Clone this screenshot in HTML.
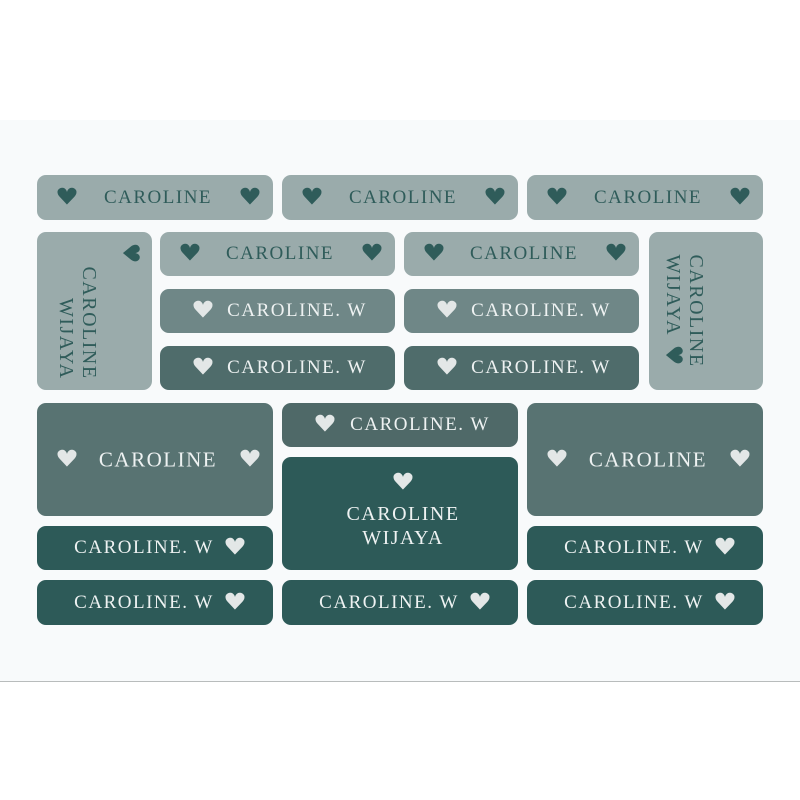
<!DOCTYPE html>
<html><head><meta charset="utf-8"><style>
body{margin:0;width:800px;height:800px;background:#fff;position:relative;overflow:hidden;font-family:"Liberation Serif",serif}
.bg{position:absolute;left:0;top:120px;width:800px;height:561px;background:#f8fafb;border-bottom:1px solid #b8bcbc}
.t{position:absolute;border-radius:9px;letter-spacing:1.5px;white-space:nowrap}
.t span{position:absolute;top:50%;transform:translate(-50%,-50%)}
.a{background:#9aabab;color:#2f5c5a;font-size:19px}
.b{background:#6f8787;color:#eef2f2;font-size:19px}
.c{background:#4f6c6b;color:#eef2f2;font-size:19px}
.d{background:#587372;color:#eef2f2;font-size:21px}
.e{background:#2d5a58;color:#eef2f2;font-size:19px}
.t span.h{font-family:"DejaVu Sans",sans-serif;font-size:23px;letter-spacing:0;transform:translate(-50%,-52%) scaleX(1.15)}
.a .h{color:#2f5c5a}.b .h,.c .h,.d .h,.e .h{color:#e3e7e7}
.v{position:absolute;line-height:23px;font-size:20px;color:#2f5c5a;letter-spacing:1.5px;white-space:nowrap}
</style></head><body>
<div class="bg"></div>
<div class="t a" style="left:37px;top:175px;width:236px;height:45px"><span class="h" style="left:30px">♥</span><span style="left:121px">CAROLINE</span><span class="h" style="left:213px">♥</span></div>
<div class="t a" style="left:282px;top:175px;width:236px;height:45px"><span class="h" style="left:30px">♥</span><span style="left:121px">CAROLINE</span><span class="h" style="left:213px">♥</span></div>
<div class="t a" style="left:527px;top:175px;width:236px;height:45px"><span class="h" style="left:30px">♥</span><span style="left:121px">CAROLINE</span><span class="h" style="left:213px">♥</span></div>

<div class="t a" style="left:37px;top:232px;width:115px;height:158px"><span class="v" style="left:40px;top:91px;text-align:right;transform:translate(-50%,-50%) rotate(90deg)">CAROLINE<br>WIJAYA</span><span class="h" style="left:93px;top:21px;transform:translate(-50%,-50%) rotate(90deg)">♥</span></div>
<div class="t a" style="left:649px;top:232px;width:114px;height:158px"><span class="v" style="left:35px;top:79px;text-align:left;transform:translate(-50%,-50%) rotate(90deg)">CAROLINE<br>WIJAYA</span><span class="h" style="left:24px;top:123px;transform:translate(-50%,-50%) rotate(90deg)">♥</span></div>

<div class="t a" style="left:160px;top:232px;width:235px;height:44px"><span class="h" style="left:30px">♥</span><span style="left:120px">CAROLINE</span><span class="h" style="left:212px">♥</span></div>
<div class="t a" style="left:404px;top:232px;width:235px;height:44px"><span class="h" style="left:30px">♥</span><span style="left:120px">CAROLINE</span><span class="h" style="left:212px">♥</span></div>
<div class="t b" style="left:160px;top:289px;width:235px;height:44px"><span class="h" style="left:43px">♥</span><span style="left:137px">CAROLINE. W</span></div>
<div class="t b" style="left:404px;top:289px;width:235px;height:44px"><span class="h" style="left:43px">♥</span><span style="left:137px">CAROLINE. W</span></div>
<div class="t c" style="left:160px;top:346px;width:235px;height:44px"><span class="h" style="left:43px">♥</span><span style="left:137px">CAROLINE. W</span></div>
<div class="t c" style="left:404px;top:346px;width:235px;height:44px"><span class="h" style="left:43px">♥</span><span style="left:137px">CAROLINE. W</span></div>

<div class="t d" style="left:37px;top:403px;width:236px;height:113px"><span class="h" style="left:30px">♥</span><span style="left:121px">CAROLINE</span><span class="h" style="left:213px">♥</span></div>
<div class="t d" style="left:527px;top:403px;width:236px;height:113px"><span class="h" style="left:30px">♥</span><span style="left:121px">CAROLINE</span><span class="h" style="left:213px">♥</span></div>
<div class="t c" style="left:282px;top:403px;width:236px;height:44px;background:#4f6968"><span class="h" style="left:43px">♥</span><span style="left:138px">CAROLINE. W</span></div>
<div class="t e" style="left:282px;top:457px;width:236px;height:113px;font-size:20px"><span class="h" style="left:121px;top:26px">♥</span><span style="left:121px;top:69px;text-align:center;line-height:24px">CAROLINE<br>WIJAYA</span></div>

<div class="t e" style="left:37px;top:526px;width:236px;height:44px"><span style="left:107px">CAROLINE. W</span><span class="h" style="left:198px">♥</span></div>
<div class="t e" style="left:527px;top:526px;width:236px;height:44px"><span style="left:107px">CAROLINE. W</span><span class="h" style="left:198px">♥</span></div>
<div class="t e" style="left:37px;top:580px;width:236px;height:45px"><span style="left:107px">CAROLINE. W</span><span class="h" style="left:198px">♥</span></div>
<div class="t e" style="left:282px;top:580px;width:236px;height:45px"><span style="left:107px">CAROLINE. W</span><span class="h" style="left:198px">♥</span></div>
<div class="t e" style="left:527px;top:580px;width:236px;height:45px"><span style="left:107px">CAROLINE. W</span><span class="h" style="left:198px">♥</span></div>
</body></html>
